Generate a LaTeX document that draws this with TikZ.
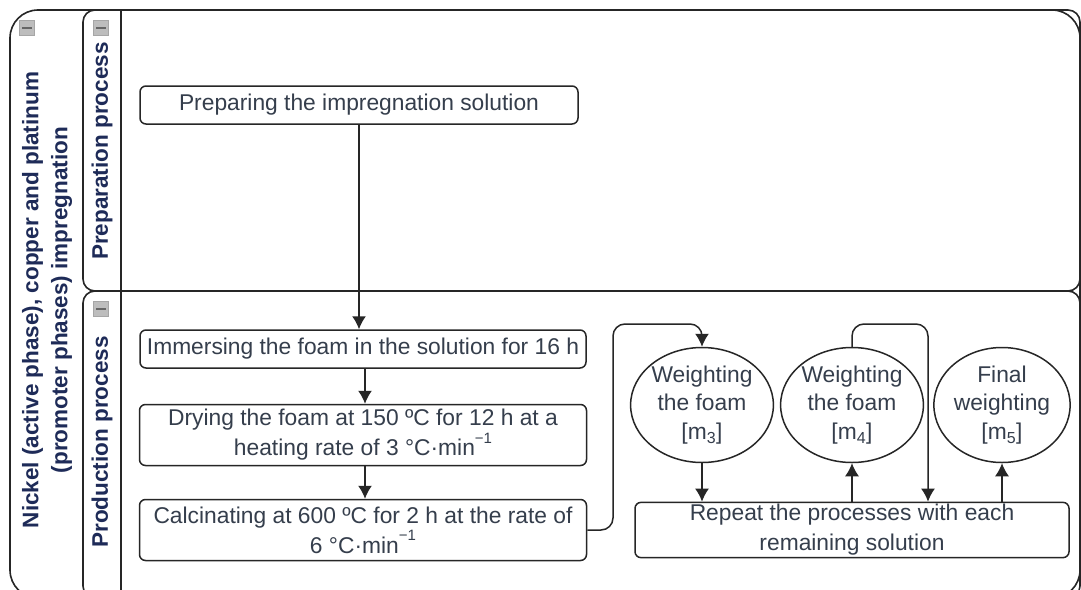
\documentclass[tikz,border=0pt]{standalone}
\usepackage{fontspec}
\setmainfont{Liberation Sans}
\usetikzlibrary{shapes.geometric,arrows.meta,calc}
\definecolor{bodytext}{HTML}{353E4C}
\definecolor{headtext}{HTML}{1E2B58}
\definecolor{icongray}{HTML}{BDBDBD}
\tikzset{
  frame/.style={draw=black!85, line width=1.6pt},
  procbox/.style={draw=black!85, line width=1.5pt, rounded corners=6pt, inner sep=2pt, align=center,
     text=bodytext, font=\fontsize{22.8}{30}\selectfont},
  weigh/.style={ellipse, draw=black!85, line width=1.5pt, minimum width=133pt, minimum height=115pt,
     inner sep=0pt, align=center, text=bodytext, font=\fontsize{22.8}{28.5}\selectfont},
  arr/.style={line width=1.5pt, draw=black!85, -{Latex[length=13pt,width=14pt]}},
  headlbl/.style={rotate=90, align=center, text=headtext, font=\fontsize{22.5}{29}\selectfont\bfseries},
  minusicon/.style={draw=gray!70, fill=icongray, minimum width=15pt, minimum height=15pt, inner sep=0pt}
}
\newcommand{\supm}[1]{\raisebox{0.55em}{\fontsize{15}{15}\selectfont #1}}
\begin{document}
\begin{tikzpicture}[x=1pt,y=-1pt]
\useasboundingbox (0,0) rectangle (1081,589);
\clip (0,0) rectangle (1081,589);
\fill[white] (0,0) rectangle (1081,589);
% pool
\draw[frame, rounded corners=28pt] (10,10) rectangle (1080,598);
% lanes
\draw[frame, rounded corners=12pt] (83,10) rectangle (1080,291);
\draw[frame, rounded corners=12pt] (83,291) rectangle (1080,598);
\draw[frame] (121,10) -- (121,600);
% icons
\node[minusicon] (ic0) at (27,28) {};
\node[minusicon] (ic1) at (101,28) {};
\node[minusicon] (ic2) at (101,309) {};
\foreach \i in {ic0,ic1,ic2}{\draw[line width=2.5pt, black!60] ($(\i.west)+(3,0)$) -- ($(\i.east)+(-3,0)$);}
% headers
\node[headlbl] (pooltitle) at (47,300) {Nickel (active phase), copper and platinum\\(promoter phases) impregnation};
\node[headlbl] (lane1title) at (102,151) {Preparation process};
\node[headlbl] (lane2title) at (102,442) {Production process};
% process boxes
\node[procbox, minimum width=438pt, minimum height=38pt] (prep) at (359,105) {Preparing the impregnation solution};
\node[procbox, minimum width=446pt, minimum height=38pt] (imm) at (363,349) {Immersing the foam in the solution for 16 h};
\node[procbox, minimum width=447pt, minimum height=61pt] (dry) at (363,435) {Drying the foam at 150 ºC for 12 h at a\\heating rate of 3 °C·min\supm{−1}};
\node[procbox, minimum width=447pt, minimum height=61pt] (calc) at (363,530) {Calcinating at 600 ºC for 2 h at the rate of\\6 °C·min\supm{−1}};
\node[weigh] (w1) at (702,405) {Weighting\\the foam\\{}[m\textsubscript{3}]};
\node[weigh] (w2) at (852,405) {Weighting\\the foam\\{}[m\textsubscript{4}]};
\node[weigh] (w3) at (1002,405) {Final\\weighting\\{}[m\textsubscript{5}]};
\node[procbox, minimum width=434pt, minimum height=55pt] (rep) at (852,530) {Repeat the processes with each\\remaining solution};
% connectors
\coordinate (c1) at (613,324);
\coordinate (c2) at (928,324);
\draw[arr] (prep.south) -- (prep.south |- imm.north);
\draw[arr] ([xshift=2pt]imm.south) -- ([xshift=2pt]dry.north);
\draw[arr] ([xshift=2pt]dry.south) -- ([xshift=2pt]calc.north);
\draw[arr, rounded corners=12pt] (calc.east) -| (c1) -| (w1.north);
\draw[arr] (w1.south) -- (w1.south |- rep.north);
\draw[arr] (rep.north) -- (w2.south);
\draw[arr, rounded corners=12pt] (w2.north) |- (c2) -- (c2 |- rep.north);
\draw[arr] (w3.south |- rep.north) -- (w3.south);
\end{tikzpicture}
\end{document}
